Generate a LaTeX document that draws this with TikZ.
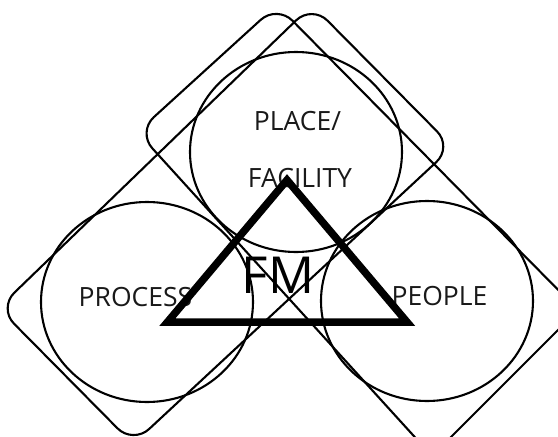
\documentclass[tikz,border=0pt]{standalone}
\usepackage{fontspec}
\setmainfont{Open Sans}
\usetikzlibrary{calc}
\begin{document}
\begin{tikzpicture}[x=1pt,y=-1pt,
  thinline/.style={line width=2.1pt,black},
  roundrect/.style={thinline,rounded corners=22pt},
  ring/.style={thinline},
  tri/.style={line width=7.5pt,black,line join=miter},
  lbl/.style={anchor=base,inner sep=0pt,text=black!90,font=\fontsize{26.5}{30}\selectfont},
  biglbl/.style={anchor=base,inner sep=0pt,text=black,font=\fontsize{51}{60}\selectfont}]
\useasboundingbox (0,0) rectangle (558,437);
% rounded rectangle L (process - place)
\coordinate (La) at (-1.5,308);
\coordinate (Lb) at (312,5);
\coordinate (Lc) at (452.5,147);
\coordinate (Ld) at (133,444);
\coordinate (Lm) at ($(La)!0.5!(Lb)$);
% rounded rectangle R (place - people)
\coordinate (Ra) at (137.5,132);
\coordinate (Rb) at (277,5);
\coordinate (Rc) at (578,310);
\coordinate (Rd) at (432,456);
\coordinate (Rm) at ($(Ra)!0.5!(Rb)$);
\draw[roundrect] (Lm) -- (Lb) -- (Lc) -- (Ld) -- (La) -- cycle;
\draw[roundrect] (Rm) -- (Rb) -- (Rc) -- (Rd) -- (Ra) -- cycle;
% circles
\coordinate (Ctop) at (296,152);
\coordinate (Cleft) at (147,302);
\coordinate (Cright) at (427,301);
\draw[ring] (Ctop) ellipse [x radius=106pt, y radius=100pt];
\draw[ring] (Cleft) ellipse [x radius=106pt, y radius=100pt];
\draw[ring] (Cright) ellipse [x radius=106pt, y radius=100pt];
% labels
\node[lbl] (place) at (297.5,130) {PLACE/};
\node[lbl] (facility) at (300,187) {FACILITY};
\node[lbl] (process) at (135.5,306) {PROCESS};
\node[lbl] (people) at (439.5,305) {PEOPLE};
\node[biglbl] (fm) at (278,293) {FM};
% triangle
\coordinate (Ta) at (287,180);
\coordinate (Tb) at (167.5,322);
\coordinate (Tc) at (407,322);
\draw[tri] (Ta) -- (Tb) -- (Tc) -- cycle;
\end{tikzpicture}
\end{document}
